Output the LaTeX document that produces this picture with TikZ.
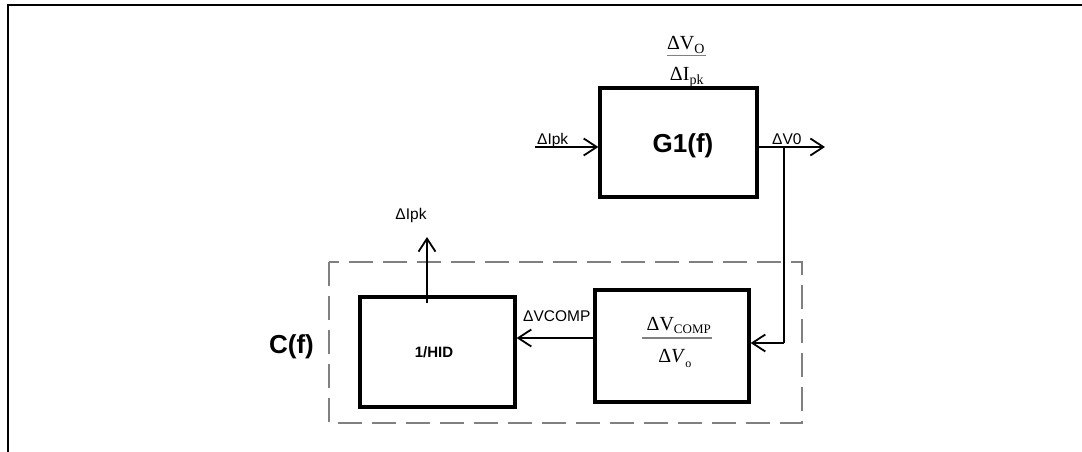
\documentclass[tikz,border=0pt]{standalone}
\usepackage{fontspec}
\setmainfont{Liberation Serif}
\setsansfont{Liberation Sans}
\usetikzlibrary{arrows.meta}
\tikzset{
  blk/.style={draw, line width=3.3pt, inner sep=0pt},
  sig/.style={line width=1.8pt, -{Straight Barb[length=13pt,width=17pt,line width=1.8pt]}},
  thin/.style={line width=1.2pt},
  lbl/.style={font=\sffamily\fontsize{15.5}{15.5}\selectfont, inner sep=0pt},
  big/.style={font=\sffamily\bfseries\fontsize{26}{26}\selectfont, inner sep=0pt},
  frc/.style={font=\fontsize{20}{20}\selectfont, inner sep=0pt},
  bar/.style={draw=gray, line width=1.3pt},
  frame/.style={line width=2.8pt},
  grp/.style={draw=gray, line width=1.1pt, dash pattern=on 24pt off 10pt},
}
\begin{document}
\begin{tikzpicture}[x=1pt,y=-1pt]
\useasboundingbox (0,0) rectangle (1082,452);
% outer frame
\coordinate (f0) at (8,452);
\coordinate (f1) at (8,5);
\coordinate (f2) at (1082,5);
\draw[frame] (f0) -- (f1) -- (f2);
% group box
\draw[grp] (329,262) rectangle (802,423);
% blocks
\node[blk, minimum width=157pt, minimum height=109pt] (g1) at (678.5,142.5) {};
\node[big] (g1t) at (683,146) {G1(f)};
\node[blk, minimum width=155pt, minimum height=110pt] (hid) at (437.5,352) {};
\node[font=\sffamily\bfseries\fontsize{15}{15}\selectfont, inner sep=0pt] (hidt) at (434,352) {1/HID};
\node[blk, minimum width=154pt, minimum height=112pt] (comp) at (672,346) {};
% fraction above G1
\node[frc, anchor=base] (g1n) at (686,50) {ΔV\textsubscript{O}};
\node[frc, anchor=base] (g1d) at (687,81) {ΔI\textsubscript{pk}};
\coordinate (g1bl) at (667,55.5);
\coordinate (g1br) at (706,55.5);
\draw[bar] (g1bl) -- (g1br);
% fraction in comp
\node[frc, anchor=base] (cn) at (679,330) {ΔV\textsubscript{\fontsize{13}{13}\selectfont COMP}};
\node[frc, anchor=base] (cd) at (675,362) {Δ\textit{V}\textsubscript{\raisebox{-2pt}{\fontsize{12}{12}\selectfont o}}};
\coordinate (cbl) at (642,338);
\coordinate (cbr) at (712,338);
\draw[bar] (cbl) -- (cbr);
% C(f)
\node[big] (cf) at (291.5,347) {C(f)};
% input arrow
\coordinate (in) at (535,147);
\draw[sig] (in) -- (in -| g1.west);
\node[lbl, anchor=base west] (inl) at (537,144) {ΔIpk};
% output arrow
\coordinate (out) at (825,147);
\draw[sig] (out -| g1.east) -- (out);
\node[lbl, anchor=base west] (outl) at (772,144) {ΔV0};
% feedback
\coordinate (br) at (784,147);
\coordinate (br2) at (784,343);
\draw[thin] (br) -- (br2);
\draw[sig, line width=1.2pt] (br2) -- (br2 -| comp.east);
% comp -> hid
\coordinate (cy) at (600,338);
\draw[sig, line width=1.2pt] (cy -| comp.west) -- (cy -| hid.east);
\node[lbl, anchor=base west] (cyl) at (523,321) {ΔVCOMP};
% up arrow
\coordinate (up) at (427,237);
\coordinate (upb) at (427,303);
\draw[sig] (upb) -- (up);
\node[lbl] (upl) at (411,215) {ΔIpk};
\end{tikzpicture}
\end{document}
